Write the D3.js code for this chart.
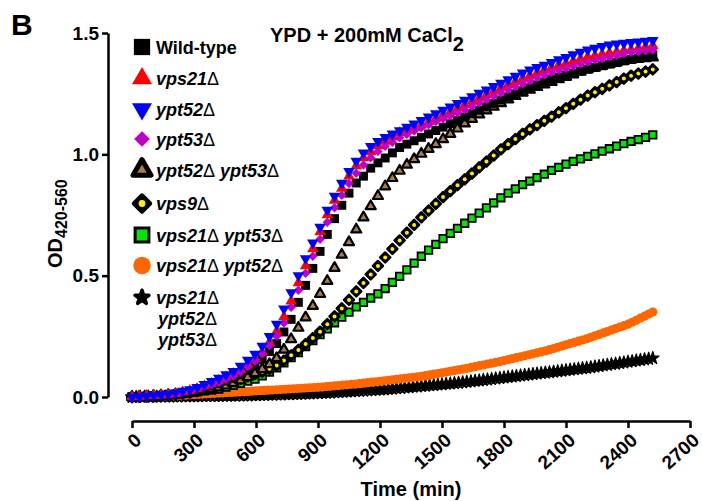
<!DOCTYPE html>
<html>
<head>
<meta charset="utf-8">
<script src="https://cdn.jsdelivr.net/npm/d3@7"></script>
<style>
  body { margin: 0; background: #fff; }
  svg { display: block; font-family: "Liberation Sans", Arial, sans-serif; }
</style>
</head>
<body>
<svg></svg>
<script>
const width = 702, height = 501;

// sampling times (min)
const timeMin = [0,35,70,105,140,175,210,245,280,315,350,385,420,455,490,525,560,595,630,665,
  700,735,770,805,840,875,910,945,980,1015,1050,1085,1120,1155,1190,1225,1260,1295,1330,1365,
  1400,1435,1470,1505,1540,1575,1610,1645,1680,1715,1750,1785,1820,1855,1890,1925,1960,1995,2030,2065,
  2100,2135,2170,2205,2240,2275,2310,2345,2380,2415,2450,2485,2520];

// the two slow strains are plotted much more densely
const timeFine = [0,20,40,60,80,100,120,140,160,180,200,220,240,260,280,300,320,340,360,380,
  400,420,440,460,480,500,520,540,560,580,600,620,640,660,680,700,720,740,760,780,
  800,820,840,860,880,900,920,940,960,980,1000,1020,1040,1060,1080,1100,1120,1140,1160,1180,
  1200,1220,1240,1260,1280,1300,1320,1340,1360,1380,1400,1420,1440,1460,1480,1500,1520,1540,1560,1580,
  1600,1620,1640,1660,1680,1700,1720,1740,1760,1780,1800,1820,1840,1860,1880,1900,1920,1940,1960,1980,
  2000,2020,2040,2060,2080,2100,2120,2140,2160,2180,2200,2220,2240,2260,2280,2300,2320,2340,2360,2380,
  2400,2420,2440,2460,2480,2500,2520];

const wildType = [0.000,0.001,0.003,0.005,0.007,0.009,0.012,0.016,0.021,0.028,
  0.036,0.045,0.055,0.066,0.077,0.091,0.109,0.127,0.155,0.187,
  0.220,0.268,0.320,0.390,0.460,0.530,0.600,0.670,0.735,0.790,
  0.840,0.882,0.910,0.943,0.965,0.985,1.006,1.028,1.042,1.056,
  1.070,1.084,1.098,1.112,1.126,1.140,1.154,1.168,1.182,1.196,
  1.210,1.224,1.237,1.249,1.262,1.274,1.286,1.298,1.308,1.317,
  1.325,1.334,1.343,1.351,1.358,1.365,1.372,1.378,1.385,1.391,
  1.397,1.403,1.408];

const vps21 = [0.000,0.002,0.004,0.006,0.008,0.011,0.014,0.020,0.026,0.034,
  0.045,0.056,0.068,0.082,0.096,0.113,0.135,0.157,0.185,0.225,
  0.270,0.330,0.395,0.470,0.540,0.610,0.680,0.750,0.810,0.860,
  0.910,0.952,0.985,1.010,1.035,1.053,1.071,1.088,1.099,1.110,
  1.120,1.134,1.148,1.162,1.176,1.190,1.204,1.218,1.232,1.246,
  1.260,1.274,1.287,1.299,1.312,1.324,1.336,1.348,1.358,1.367,
  1.375,1.384,1.393,1.401,1.407,1.413,1.418,1.422,1.427,1.431,
  1.437,1.443,1.448];

const ypt52 = [0.000,0.002,0.004,0.006,0.009,0.012,0.017,0.024,0.031,0.040,
  0.052,0.065,0.078,0.092,0.106,0.127,0.152,0.177,0.210,0.250,
  0.300,0.363,0.430,0.500,0.570,0.635,0.700,0.770,0.828,0.881,
  0.930,0.972,1.006,1.033,1.054,1.070,1.084,1.098,1.112,1.126,
  1.140,1.154,1.168,1.182,1.196,1.210,1.224,1.238,1.252,1.266,
  1.280,1.294,1.308,1.322,1.336,1.348,1.358,1.368,1.379,1.390,
  1.400,1.411,1.421,1.431,1.438,1.445,1.451,1.455,1.458,1.461,
  1.464,1.467,1.470];

const ypt53 = [0.000,0.002,0.004,0.006,0.008,0.011,0.014,0.019,0.025,0.033,
  0.042,0.051,0.061,0.073,0.086,0.103,0.125,0.147,0.178,0.212,
  0.250,0.305,0.370,0.440,0.510,0.580,0.650,0.720,0.780,0.831,
  0.880,0.922,0.956,0.986,1.012,1.033,1.050,1.068,1.082,1.096,
  1.110,1.122,1.135,1.147,1.159,1.171,1.184,1.198,1.212,1.226,
  1.240,1.254,1.267,1.279,1.292,1.304,1.316,1.328,1.338,1.347,
  1.355,1.364,1.373,1.381,1.388,1.395,1.402,1.408,1.415,1.421,
  1.424,1.427,1.430];

const ypt52ypt53 = [0.000,0.001,0.002,0.004,0.006,0.008,0.010,0.013,0.017,0.022,
  0.027,0.032,0.039,0.047,0.057,0.068,0.082,0.098,0.115,0.135,
  0.160,0.195,0.238,0.285,0.328,0.375,0.425,0.478,0.532,0.586,
  0.638,0.690,0.740,0.786,0.828,0.868,0.902,0.932,0.957,0.980,
  1.002,1.022,1.042,1.062,1.084,1.106,1.127,1.146,1.164,1.181,
  1.196,1.211,1.226,1.240,1.254,1.266,1.277,1.288,1.298,1.309,
  1.319,1.329,1.340,1.350,1.357,1.364,1.371,1.378,1.385,1.390,
  1.393,1.396,1.399];

const vps9 = [0.000,0.001,0.002,0.003,0.006,0.008,0.011,0.014,0.018,0.024,
  0.032,0.041,0.050,0.059,0.068,0.076,0.085,0.094,0.104,0.116,
  0.130,0.150,0.172,0.194,0.218,0.243,0.269,0.300,0.332,0.365,
  0.400,0.435,0.470,0.505,0.540,0.575,0.610,0.645,0.677,0.709,
  0.740,0.768,0.796,0.824,0.848,0.873,0.897,0.921,0.946,0.970,
  0.995,1.020,1.042,1.063,1.084,1.103,1.120,1.138,1.155,1.173,
  1.190,1.208,1.225,1.242,1.256,1.270,1.284,1.298,1.312,1.324,
  1.333,1.341,1.350];

const vps21ypt53 = [0.000,0.001,0.002,0.004,0.006,0.008,0.010,0.014,0.018,0.021,
  0.025,0.028,0.033,0.041,0.048,0.056,0.065,0.074,0.087,0.103,
  0.120,0.141,0.162,0.183,0.208,0.232,0.257,0.281,0.306,0.329,
  0.350,0.371,0.390,0.408,0.425,0.447,0.472,0.497,0.524,0.552,
  0.580,0.605,0.629,0.653,0.674,0.695,0.716,0.737,0.758,0.779,
  0.800,0.821,0.840,0.858,0.875,0.890,0.904,0.918,0.934,0.946,
  0.960,0.971,0.981,0.992,1.002,1.013,1.023,1.034,1.044,1.053,
  1.061,1.070,1.080];

const vps21ypt52 = [0.000,0.001,0.001,0.002,0.002,0.003,0.003,0.004,0.004,0.005,
  0.005,0.006,0.007,0.008,0.009,0.010,0.011,0.012,0.013,0.014,
  0.015,0.016,0.017,0.018,0.019,0.020,0.021,0.022,0.023,0.024,
  0.025,0.026,0.027,0.028,0.029,0.030,0.031,0.032,0.033,0.034,
  0.035,0.036,0.037,0.038,0.039,0.040,0.041,0.043,0.044,0.046,
  0.047,0.049,0.050,0.052,0.053,0.055,0.057,0.059,0.061,0.063,
  0.065,0.067,0.069,0.071,0.073,0.075,0.077,0.079,0.081,0.083,
  0.085,0.088,0.091,0.094,0.097,0.100,0.103,0.106,0.109,0.112,
  0.115,0.118,0.122,0.125,0.129,0.132,0.136,0.139,0.143,0.146,
  0.150,0.154,0.158,0.162,0.166,0.170,0.174,0.178,0.182,0.186,
  0.190,0.195,0.200,0.205,0.210,0.215,0.220,0.225,0.230,0.235,
  0.240,0.246,0.252,0.258,0.264,0.270,0.276,0.282,0.288,0.294,
  0.300,0.308,0.316,0.325,0.333,0.342,0.350];

const tripleMutant = [0.000,0.000,0.001,0.001,0.001,0.001,0.001,0.002,0.002,0.002,
  0.002,0.002,0.003,0.003,0.003,0.003,0.003,0.004,0.004,0.004,
  0.004,0.004,0.005,0.005,0.005,0.005,0.006,0.006,0.006,0.007,
  0.007,0.008,0.008,0.009,0.009,0.010,0.010,0.011,0.011,0.012,
  0.012,0.013,0.014,0.014,0.015,0.016,0.017,0.017,0.018,0.019,
  0.020,0.021,0.022,0.023,0.024,0.025,0.026,0.027,0.028,0.029,
  0.030,0.031,0.033,0.034,0.036,0.037,0.039,0.040,0.042,0.043,
  0.045,0.046,0.048,0.049,0.051,0.052,0.054,0.055,0.057,0.058,
  0.060,0.062,0.064,0.066,0.068,0.070,0.072,0.074,0.076,0.078,
  0.080,0.082,0.084,0.086,0.088,0.090,0.092,0.094,0.096,0.098,
  0.100,0.102,0.104,0.106,0.108,0.110,0.112,0.114,0.116,0.118,
  0.120,0.122,0.125,0.127,0.130,0.132,0.135,0.137,0.140,0.142,
  0.145,0.147,0.150,0.152,0.155,0.157,0.160];

const xTicks = [0,300,600,900,1200,1500,1800,2100,2400,2700];
const yTicks = [0,0.5,1.0,1.5];

// legend text (each entry = lines)
const legendLabels = [
  ["Wild-type"], ["vps21Δ"], ["ypt52Δ"], ["ypt53Δ"], ["ypt52Δ ypt53Δ"],
  ["vps9Δ"], ["vps21Δ ypt53Δ"], ["vps21Δ ypt52Δ"], ["vps21Δ", "ypt52Δ", "ypt53Δ"]
];

const svg = d3.select("svg").attr("width", width).attr("height", height);

const x = d3.scaleLinear().domain([0, 2700]).range([132, 690]);
const y = d3.scaleLinear().domain([0, 1.5]).range([397, 33]);

function sym(g, type, size, fill, stroke, sw, rot = 0, round = false) {
  g.append("path")
    .attr("d", d3.symbol(type, size)())
    .attr("transform", rot ? `rotate(${rot})` : null)
    .attr("fill", fill)
    .attr("stroke", stroke)
    .attr("stroke-width", sw)
    .attr("stroke-linejoin", round ? "round" : "miter");
}

// marker styles, by series (s = scale factor, l = legend)
const series = [
  { key: "wt", t: timeMin, vals: wildType,
    draw: (g, s) => sym(g, d3.symbolSquare, 80*s, "#000", "none", 0) },
  { key: "r", t: timeMin, vals: vps21,
    draw: (g, s) => sym(g, d3.symbolTriangle, 58*s, "#ff0000", "none", 0) },
  { key: "b", t: timeMin, vals: ypt52,
    draw: (g, s) => sym(g, d3.symbolTriangle, 58*s, "#0000ff", "none", 0, 180) },
  { key: "m", t: timeMin, vals: ypt53,
    draw: (g, s) => sym(g, d3.symbolSquare, 44*s, "#c000c8", "none", 0, 45) },
  { key: "br", t: timeMin, vals: ypt52ypt53,
    draw: (g, s, l) => sym(g, d3.symbolTriangle, 44*s, "#a87c4f", "#000", l ? 5 : 2.2, 0, true) },
  { key: "y", t: timeMin, vals: vps9,
    draw: (g, s, l) => { sym(g, d3.symbolSquare, 50*s, "#000", "#000", l ? 4 : 2.5, 45, true);
      g.append("circle").attr("r", l ? 3.4 : 2).attr("fill", "#ffee00"); } },
  { key: "g", t: timeMin, vals: vps21ypt53,
    draw: (g, s, l) => sym(g, d3.symbolSquare, 56*s, "#00e600", "#000", l ? 3 : 1.8) },
  { key: "o", t: timeFine, vals: vps21ypt52,
    draw: (g, s) => sym(g, d3.symbolCircle, 66*s, "#ff6600", "none", 0) },
  { key: "k", t: timeFine, vals: tripleMutant,
    draw: (g, s, l) => sym(g, d3.symbolStar, 50*s, "#000", "#000", l ? 3.5 : 1.2, 0, true) }
];

// draw order: last on top
const drawOrder = ["k", "o", "g", "y", "br", "wt", "r", "m", "b"];
drawOrder.forEach(k => {
  const s = series.find(d => d.key === k);
  const pts = s.t.map((t, i) => [t, s.vals[i]]);
  svg.append("g").selectAll("g").data(pts).join("g")
    .attr("transform", d => `translate(${x(d[0])},${y(d[1])})`)
    .each(function () { s.draw(d3.select(this), 1, false); });
});

// y axis
const yAxis = d3.axisLeft(y).tickValues(yTicks).tickSize(6).tickSizeOuter(0).tickPadding(3)
  .tickFormat(d3.format(".1f"));
const gy = svg.append("g").attr("transform", "translate(108,0)").call(yAxis);
gy.select(".domain").attr("stroke-width", 2.5);
gy.selectAll(".tick line").attr("stroke-width", 2.5);
gy.selectAll(".tick text").attr("font-size", 19).attr("font-weight", "bold").attr("fill", "#000")
  .attr("font-family", "Liberation Sans, Arial, sans-serif");

// x axis
const xAxis = d3.axisBottom(x).tickValues(xTicks).tickSize(7).tickSizeOuter(0).tickFormat(d3.format("d"));
const gx = svg.append("g").attr("transform", "translate(0,421)").call(xAxis);
gx.select(".domain").attr("stroke-width", 2.5);
gx.selectAll(".tick line").attr("stroke-width", 2.5);
gx.selectAll(".tick text")
  .attr("font-size", 19).attr("font-weight", "bold").attr("fill", "#000")
  .attr("font-family", "Liberation Sans, Arial, sans-serif")
  .attr("text-anchor", "end")
  .attr("x", 0).attr("y", 0).attr("dy", 0)
  .attr("transform", "translate(10,21) rotate(-42)");

// axis titles
svg.append("text")
  .attr("x", 411).attr("y", 496)
  .attr("text-anchor", "middle")
  .attr("font-size", 20).attr("font-weight", "bold")
  .text("Time (min)");

const yl = svg.append("text")
  .attr("transform", "translate(62,268) rotate(-90)")
  .attr("font-size", 20).attr("font-weight", "bold");
yl.append("tspan").text("OD");
yl.append("tspan").attr("dy", 5).attr("font-size", 16).text("420-560");

// title and panel letter
const title = svg.append("text")
  .attr("x", 270).attr("y", 42)
  .attr("font-size", 20).attr("font-weight", "bold");
title.append("tspan").text("YPD + 200mM CaCl");
title.append("tspan").attr("dy", 9).attr("font-size", 20).text("2");

svg.append("text")
  .attr("x", 11).attr("y", 35)
  .attr("font-size", 30).attr("font-weight", "bold")
  .text("B");

// legend
const legendY = [47, 78.5, 109, 139, 170, 203.5, 235, 265.5, 297.5];
const legendSeries = ["wt", "r", "b", "m", "br", "y", "g", "o", "k"];
const legendScale = [3.3, 3.0, 3.0, 2.8, 3.2, 2.7, 3.4, 3.6, 1.2];

legendSeries.forEach((k, i) => {
  const s = series.find(d => d.key === k);
  const g = svg.append("g").attr("transform", `translate(142,${legendY[i]})`);
  s.draw(g, legendScale[i], true);

  const t = svg.append("text")
    .attr("x", 156).attr("y", legendY[i] + 6.5)
    .attr("font-size", 18).attr("font-weight", "bold");
  legendLabels[i].forEach((line, j) => {
    const lineStart = t.append("tspan")
      .attr("x", j === 0 ? 156 : 158)
      .attr("dy", j === 0 ? 0 : 21);
    line.split(/(Δ)/).filter(p => p).forEach((part, p) => {
      const sp = p === 0 ? lineStart : t.append("tspan");
      if (part === "Δ") sp.attr("font-style", "normal").attr("font-weight", "normal").text(part);
      else sp.attr("font-style", k === "wt" ? "normal" : "italic").text(part);
    });
  });
});
</script>
</body>
</html>
